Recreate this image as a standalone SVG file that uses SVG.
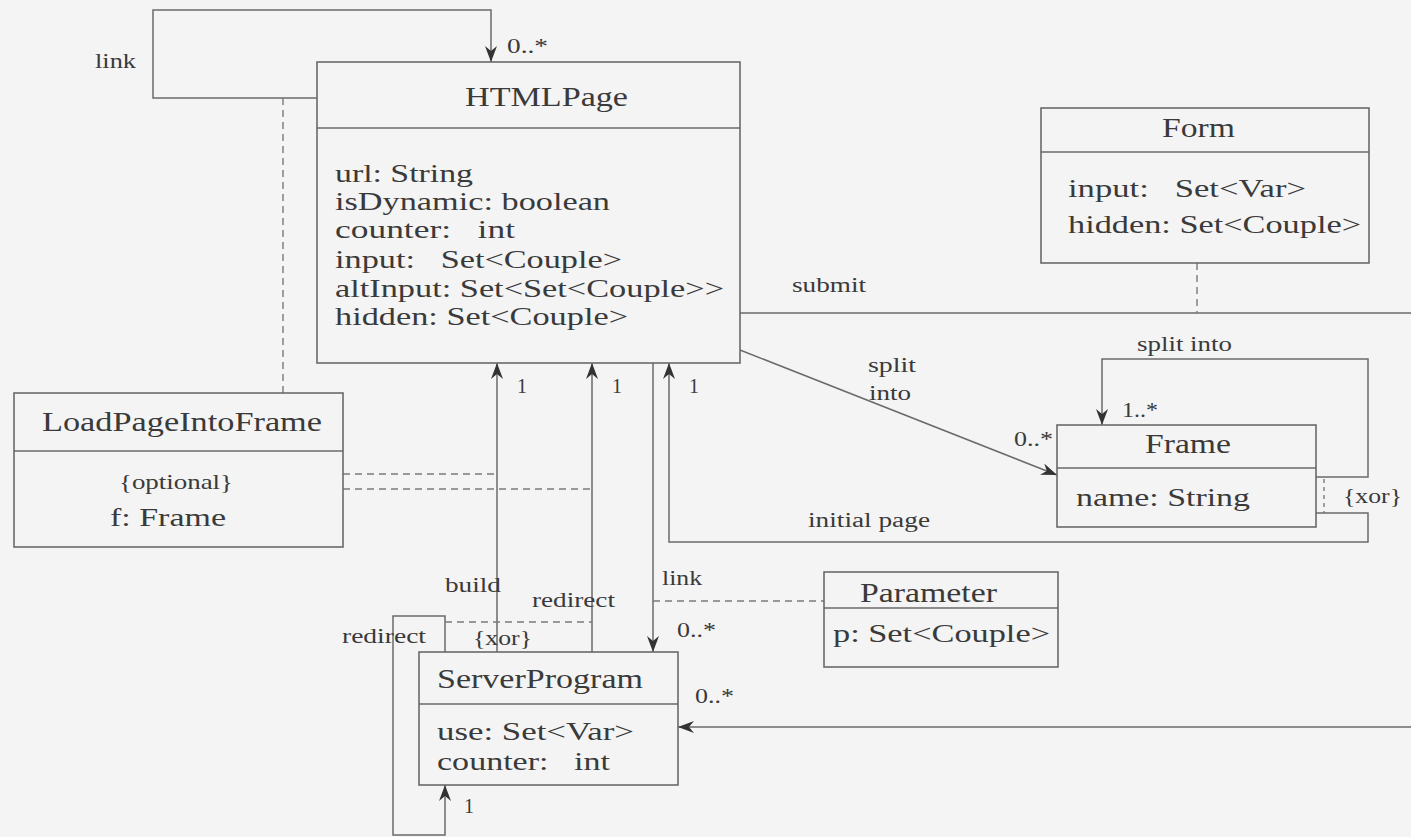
<svg xmlns="http://www.w3.org/2000/svg" width="1411" height="837" viewBox="0 0 1411 837">
<style>
.box{fill:none;stroke:#6a6a6a;stroke-width:1.6}
.ln{fill:none;stroke:#6a6a6a;stroke-width:1.5}
.dash{fill:none;stroke:#7a7a7a;stroke-width:1.4;stroke-dasharray:7 5}
.dot{fill:none;stroke:#7a7a7a;stroke-width:1.4;stroke-dasharray:4 4}
.t{font-family:"Liberation Serif","Times New Roman",serif;fill:#3a3a3a}
.title{font-size:28px}
.attr{font-size:25px}
.lbl{font-size:20px}
.sm{font-size:21px}
</style>
<defs>
<marker id="ah" markerUnits="userSpaceOnUse" markerWidth="18" markerHeight="12" refX="16" refY="6" orient="auto">
<path d="M0,0 L16,6 L0,12 L5,6 z" fill="#333"/>
</marker>
</defs>
<rect width="1411" height="837" fill="#f4f4f4"/>

<g id="connectors">
<path class="ln" d="M317,98 H153 V10 H491 V62" marker-end="url(#ah)"/>
<path class="dash" d="M283,98 V393"/>
<path class="ln" d="M740,313 H1411"/>
<path class="dash" d="M1197,263 V313"/>
<path class="ln" d="M740,350 L1057,475" marker-end="url(#ah)"/>
<path class="ln" d="M1316,477 H1368 V359 H1102 V425" marker-end="url(#ah)"/>
<path class="dot" d="M1324,479 V513"/>
<path class="ln" d="M1316,513 H1368 V542 H669 V363" marker-end="url(#ah)"/>
<path class="ln" d="M497,652 V363" marker-end="url(#ah)"/>
<path class="ln" d="M592,652 V363" marker-end="url(#ah)"/>
<path class="ln" d="M653,363 V652" marker-end="url(#ah)"/>
<path class="dash" d="M343,474 H497"/>
<path class="dash" d="M343,489 H592"/>
<path class="ln" d="M445,652 V616 H393 V835 H445 V785" marker-end="url(#ah)"/>
<path class="dash" d="M445,622 H592"/>
<path class="dash" d="M653,601 H824"/>
<path class="ln" d="M1411,727 H678" marker-end="url(#ah)"/>

<text class="t lbl" x="95" y="68" textLength="41" lengthAdjust="spacingAndGlyphs">link</text>
<text class="t lbl" x="507" y="53" textLength="41" lengthAdjust="spacingAndGlyphs">0..*</text>
<text class="t lbl" x="792" y="292" textLength="74" lengthAdjust="spacingAndGlyphs">submit</text>
<text class="t lbl" x="868" y="372" textLength="48" lengthAdjust="spacingAndGlyphs">split</text>
<text class="t lbl" x="869" y="400" textLength="42" lengthAdjust="spacingAndGlyphs">into</text>
<text class="t lbl" x="1014" y="446" textLength="39" lengthAdjust="spacingAndGlyphs">0..*</text>
<text class="t lbl" x="1137" y="351" textLength="95" lengthAdjust="spacingAndGlyphs">split into</text>
<text class="t lbl" x="1122" y="417" textLength="36" lengthAdjust="spacingAndGlyphs">1..*</text>
<text class="t lbl" x="1343" y="503" textLength="59" lengthAdjust="spacingAndGlyphs">{xor}</text>
<text class="t lbl" x="808" y="527" textLength="122" lengthAdjust="spacingAndGlyphs">initial page</text>
<text class="t lbl" x="517" y="393">1</text>
<text class="t lbl" x="612" y="393">1</text>
<text class="t lbl" x="689" y="393">1</text>
<text class="t lbl" x="445" y="592" textLength="56" lengthAdjust="spacingAndGlyphs">build</text>
<text class="t lbl" x="532" y="607" textLength="83" lengthAdjust="spacingAndGlyphs">redirect</text>
<text class="t lbl" x="662" y="585" textLength="40" lengthAdjust="spacingAndGlyphs">link</text>
<text class="t lbl" x="342" y="643" textLength="84" lengthAdjust="spacingAndGlyphs">redirect</text>
<text class="t lbl" x="473" y="645" textLength="59" lengthAdjust="spacingAndGlyphs">{xor}</text>
<text class="t lbl" x="677" y="637" textLength="39" lengthAdjust="spacingAndGlyphs">0..*</text>
<text class="t lbl" x="695" y="703" textLength="39" lengthAdjust="spacingAndGlyphs">0..*</text>
<text class="t lbl" x="464" y="813">1</text>
</g>

<g id="HTMLPage">
<rect class="box" x="317" y="62" width="423" height="301"/>
<line class="box" x1="317" y1="128" x2="740" y2="128"/>
<text class="t title" x="465" y="106" textLength="163" lengthAdjust="spacingAndGlyphs">HTMLPage</text>
<text class="t attr" x="335" y="182" textLength="138" lengthAdjust="spacingAndGlyphs">url: String</text>
<text class="t attr" x="335" y="210" textLength="275" lengthAdjust="spacingAndGlyphs">isDynamic: boolean</text>
<text class="t attr" x="335" y="238" textLength="180" lengthAdjust="spacingAndGlyphs" xml:space="preserve">counter:   int</text>
<text class="t attr" x="335" y="268" textLength="287" lengthAdjust="spacingAndGlyphs" xml:space="preserve">input:   Set&lt;Couple&gt;</text>
<text class="t attr" x="335" y="297" textLength="389" lengthAdjust="spacingAndGlyphs">altInput: Set&lt;Set&lt;Couple&gt;&gt;</text>
<text class="t attr" x="335" y="325" textLength="293" lengthAdjust="spacingAndGlyphs">hidden: Set&lt;Couple&gt;</text>
</g>

<g id="Form">
<rect class="box" x="1041" y="108" width="328" height="155"/>
<line class="box" x1="1041" y1="152" x2="1369" y2="152"/>
<text class="t title" x="1162" y="137" textLength="73" lengthAdjust="spacingAndGlyphs">Form</text>
<text class="t attr" x="1068" y="197" textLength="238" lengthAdjust="spacingAndGlyphs" xml:space="preserve">input:   Set&lt;Var&gt;</text>
<text class="t attr" x="1068" y="233" textLength="293" lengthAdjust="spacingAndGlyphs">hidden: Set&lt;Couple&gt;</text>
</g>

<g id="Frame">
<rect class="box" x="1057" y="425" width="259" height="102"/>
<line class="box" x1="1057" y1="468" x2="1316" y2="468"/>
<text class="t title" x="1145" y="453" textLength="86" lengthAdjust="spacingAndGlyphs">Frame</text>
<text class="t attr" x="1076" y="506" textLength="174" lengthAdjust="spacingAndGlyphs">name: String</text>
</g>

<g id="LoadPageIntoFrame">
<rect class="box" x="14" y="393" width="329" height="154"/>
<line class="box" x1="14" y1="451" x2="343" y2="451"/>
<text class="t title" x="42" y="431" textLength="280" lengthAdjust="spacingAndGlyphs">LoadPageIntoFrame</text>
<text class="t sm" x="119" y="489" textLength="114" lengthAdjust="spacingAndGlyphs">{optional}</text>
<text class="t attr" x="110" y="526" textLength="116" lengthAdjust="spacingAndGlyphs">f: Frame</text>
</g>

<g id="ServerProgram">
<rect class="box" x="419" y="652" width="259" height="133"/>
<line class="box" x1="419" y1="704" x2="678" y2="704"/>
<text class="t title" x="437" y="688" textLength="206" lengthAdjust="spacingAndGlyphs">ServerProgram</text>
<text class="t attr" x="437" y="740" textLength="197" lengthAdjust="spacingAndGlyphs">use: Set&lt;Var&gt;</text>
<text class="t attr" x="437" y="770" textLength="173" lengthAdjust="spacingAndGlyphs" xml:space="preserve">counter:   int</text>
</g>

<g id="Parameter">
<rect class="box" x="824" y="572" width="234" height="95"/>
<line class="box" x1="824" y1="608" x2="1058" y2="608"/>
<text class="t title" x="860" y="602" textLength="137" lengthAdjust="spacingAndGlyphs">Parameter</text>
<text class="t attr" x="833" y="642" textLength="217" lengthAdjust="spacingAndGlyphs">p: Set&lt;Couple&gt;</text>
</g>
</svg>
